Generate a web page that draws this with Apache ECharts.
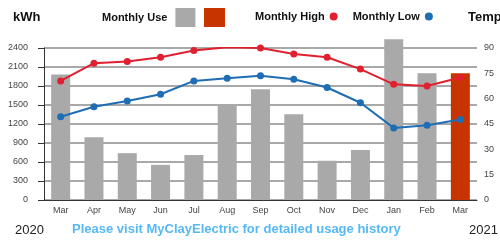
<!DOCTYPE html>
<html>
<head>
<meta charset="utf-8">
<script src="https://cdn.jsdelivr.net/npm/echarts@6/dist/echarts.min.js"></script>
<style>
  html, body { margin: 0; padding: 0; background: #fff; }
  #chart { width: 500px; height: 240px; }
</style>
</head>
<body>
<div id="chart"></div>
<script>
// months, Mar 2020 .. Mar 2021
const months = ['Mar', 'Apr', 'May', 'Jun', 'Jul', 'Aug', 'Sep', 'Oct', 'Nov', 'Dec', 'Jan', 'Feb', 'Mar'];
// kWh used
const monthlyUse = [1980, 990, 740, 555, 710, 1485, 1750, 1355, 620, 790, 2540, 2000, 2000];
// temperatures (F)
const monthlyHigh = [70.5, 81, 82, 84.5, 88.5, 90.5, 90, 86.5, 84.5, 77.5, 68.5, 67.5, 72.5];
const monthlyLow = [49.3, 55.2, 58.6, 62.6, 70.5, 72.1, 73.5, 71.5, 66.6, 57.6, 42.7, 44.3, 47.7];

const font = 'Liberation Sans, Arial, sans-serif';
const gray = '#a9a9a9';
const orange = '#c83400';

const chart = echarts.init(document.getElementById('chart'));
chart.setOption({
  animation: false,
  textStyle: { fontFamily: font },
  grid: { left: 44, right: 23, top: 48, bottom: 40 },
  legend: [
    {
      left: 97, top: 3,
      align: 'right',
      itemWidth: 20, itemHeight: 19,
      data: [{ name: 'Monthly Use', icon: 'rect' }],
      textStyle: { fontFamily: font, fontWeight: 'bold', fontSize: 11, color: '#111', padding: [0, 3, 0, 0] },
      selectedMode: false
    },
    {
      left: 250, top: 6,
      align: 'right',
      itemWidth: 8, itemHeight: 8,
      itemGap: 15,
      data: [{ name: 'Monthly High', icon: 'circle' }, { name: 'Monthly Low', icon: 'circle' }],
      textStyle: { fontFamily: font, fontWeight: 'bold', fontSize: 11, color: '#111' },
      selectedMode: false
    }
  ],
  xAxis: {
    type: 'category',
    data: months,
    axisLine: { lineStyle: { color: '#333', width: 1 } },
    axisTick: { alignWithLabel: true, length: 4, lineStyle: { color: '#333' } },
    axisLabel: { fontSize: 9, color: '#444', margin: 6 }
  },
  yAxis: [
    {
      type: 'value',
      min: 0, max: 2400, interval: 300,
      axisLine: { show: true, lineStyle: { color: '#333' } },
      axisTick: { show: true, length: 6, lineStyle: { color: '#333' } },
      axisLabel: { fontSize: 9, color: '#444', margin: 16, formatter: v => String(v) },
      splitLine: { lineStyle: { color: '#8c8c8c', width: 1.5 } }
    },
    {
      type: 'value',
      min: 0, max: 90, interval: 15,
      axisLine: { show: false },
      axisTick: { show: false },
      axisLabel: { fontSize: 9, color: '#444', margin: 7 },
      splitLine: { show: false }
    }
  ],
  series: [
    {
      name: 'Monthly Use',
      type: 'bar',
      barWidth: 19,
      clip: false,
      itemStyle: { color: gray },
      data: monthlyUse.map((v, i) => i === monthlyUse.length - 1 ? { value: v, itemStyle: { color: orange } } : v)
    },
    {
      name: 'Monthly High',
      type: 'line',
      yAxisIndex: 1,
      symbol: 'circle',
      symbolSize: 7,
      itemStyle: { color: '#e0202f' },
      lineStyle: { width: 2, color: '#e0202f' },
      data: monthlyHigh
    },
    {
      name: 'Monthly Low',
      type: 'line',
      yAxisIndex: 1,
      symbol: 'circle',
      symbolSize: 7,
      itemStyle: { color: '#1f6db4' },
      lineStyle: { width: 2, color: '#1f6db4' },
      data: monthlyLow
    }
  ],
  graphic: [
    { type: 'rect', left: 204, top: 8, shape: { width: 21, height: 19 }, style: { fill: orange } },
    { type: 'text', left: 13, top: 11, style: { text: 'kWh', font: 'bold 13px ' + font, fill: '#111' } },
    { type: 'text', left: 468, top: 11, style: { text: 'Temp', font: 'bold 13px ' + font, fill: '#111' } },
    { type: 'text', left: 15, top: 224, style: { text: '2020', font: '13px ' + font, fill: '#222' } },
    { type: 'text', left: 469, top: 224, style: { text: '2021', font: '13px ' + font, fill: '#222' } },
    { type: 'text', left: 72, top: 223, style: { text: 'Please visit MyClayElectric for detailed usage history', font: 'bold 13px ' + font, fill: '#56b9f4' } }
  ]
});
</script>
</body>
</html>
